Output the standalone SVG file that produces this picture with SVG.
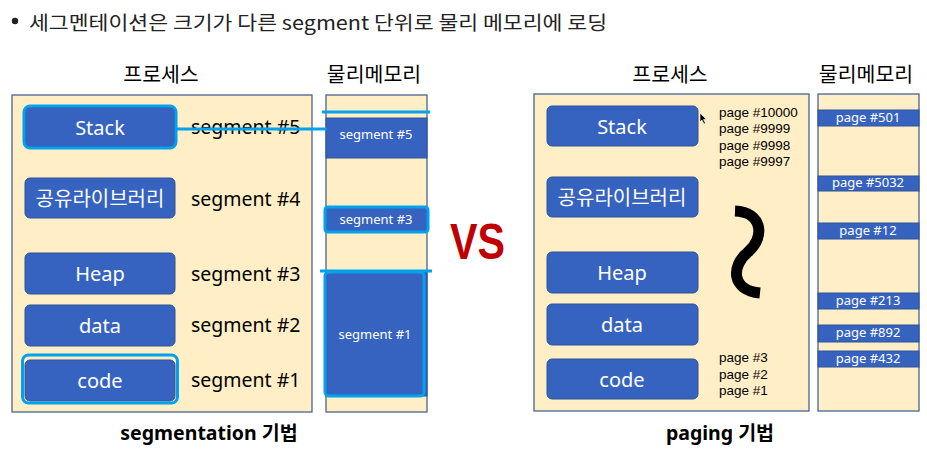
<svg xmlns="http://www.w3.org/2000/svg" width="927" height="452" viewBox="0 0 927 452">
<style>
.bg{fill:#FFEEC6;stroke:#4A6490;stroke-width:1.3}
.box{fill:#3763C0;stroke:#2F5597;stroke-width:1}
.bt{fill:#fff;font-family:"Noto Sans","Noto Sans CJK KR",sans-serif;font-size:20px;text-anchor:middle;dominant-baseline:central}
.lab{fill:#000;font-family:"Noto Sans","Noto Sans CJK KR",sans-serif;font-size:19.5px;dominant-baseline:central}
.hd{fill:#000;font-family:"Noto Sans CJK KR",sans-serif;font-size:20.5px;text-anchor:middle;dominant-baseline:central}
.pm{fill:#3763C0;stroke:#2F5597;stroke-width:1}
.pt{fill:#fff;font-family:"Noto Sans",sans-serif;font-size:13px;text-anchor:middle;dominant-baseline:central}
.pl{fill:#000;font-family:"Liberation Sans",sans-serif;font-size:13.5px;dominant-baseline:central}
.hl{fill:none;stroke:#00A2EE;stroke-width:3}
.ft{fill:#000;font-family:"Noto Sans","Noto Sans CJK KR",sans-serif;font-size:19.5px;font-weight:bold;text-anchor:middle;dominant-baseline:central}
</style>
<rect width="927" height="452" fill="#fff"/>
<g id="title">
<circle cx="15" cy="21" r="3.2" fill="#222"/>
<text x="29" y="21" font-family="Noto Sans CJK KR,sans-serif" font-size="19" fill="#222" dominant-baseline="central" textLength="578" lengthAdjust="spacingAndGlyphs">세그멘테이션은 크기가 다른 segment 단위로 물리 메모리에 로딩</text>
</g>
<!-- left: segmentation -->
<g id="seg-headers">
<text class="hd" x="161" y="73">프로세스</text>
<text class="hd" x="374" y="73">물리메모리</text>
</g>
<g id="seg-process">
<rect class="bg" x="12" y="95" width="300" height="317"/>
</g>
<g id="seg-phys">
<rect class="bg" x="326" y="95" width="101" height="317"/>
</g>
<g id="seg-stack">
<rect class="box" x="25" y="107" width="150" height="40" rx="5"/>
<rect class="hl" x="24" y="106" width="152" height="42" rx="6"/>
<text class="bt" x="100" y="127">Stack</text>
</g>
<g id="seg-shlib">
<rect class="box" x="25" y="178" width="150" height="40" rx="5"/>
<text class="bt" x="100" y="198">공유라이브러리</text>
</g>
<g id="seg-heap">
<rect class="box" x="25" y="253" width="150" height="41" rx="5"/>
<text class="bt" x="100" y="273">Heap</text>
</g>
<g id="seg-data">
<rect class="box" x="25" y="305" width="150" height="41" rx="5"/>
<text class="bt" x="100" y="325">data</text>
</g>
<g id="seg-code">
<rect class="box" x="25" y="360" width="150" height="41" rx="5"/>
<rect class="hl" x="22.5" y="355" width="155" height="48" rx="6"/>
<text class="bt" x="100" y="380">code</text>
</g>
<g id="seg-labels">
<text class="lab" x="191" y="126">segment #5</text>
<text class="lab" x="191" y="198">segment #4</text>
<text class="lab" x="191" y="273">segment #3</text>
<text class="lab" x="191" y="324">segment #2</text>
<text class="lab" x="191" y="379">segment #1</text>
</g>
<g id="seg-phys-5">
<rect class="pm" x="326" y="118" width="101" height="40"/>
<text class="pt" x="376" y="134">segment #5</text>
</g>
<g id="seg-phys-3">
<rect class="pm" x="325" y="207" width="103" height="25" rx="3"/>
<rect class="hl" x="325" y="207" width="103" height="25" rx="3"/>
<text class="pt" x="376" y="219">segment #3</text>
</g>
<g id="seg-phys-1">
<rect class="pm" x="326" y="271" width="101" height="125"/>
<rect class="hl" x="325" y="272" width="99" height="124" rx="4"/>
<text class="pt" x="375" y="334">segment #1</text>
</g>
<g id="connectors">
<line x1="176" y1="129" x2="327" y2="129" stroke="#00A2EE" stroke-width="3"/>
<line x1="322" y1="112" x2="430" y2="112" stroke="#00A2EE" stroke-width="3"/>
<line x1="320" y1="271" x2="432" y2="271" stroke="#00A2EE" stroke-width="3"/>
<line x1="698" y1="115" x2="716" y2="115" stroke="#00A2EE" stroke-width="3"/>
</g>
<g id="seg-footer">
<text class="ft" x="209" y="432">segmentation 기법</text>
</g>
<g id="vs">
<text x="450" y="259" font-family="Liberation Sans,sans-serif" font-weight="bold" font-size="50" fill="#C00000" textLength="55" lengthAdjust="spacingAndGlyphs">VS</text>
</g>
<!-- right: paging -->
<g id="pg-headers">
<text class="hd" x="670" y="73">프로세스</text>
<text class="hd" x="866" y="73">물리메모리</text>
</g>
<g id="pg-process">
<rect class="bg" x="534" y="94" width="275" height="317"/>
</g>
<g id="pg-phys">
<rect class="bg" x="818" y="94" width="101" height="317"/>
</g>
<g id="pg-stack">
<rect class="box" x="547" y="106" width="151" height="40" rx="5"/>
<text class="bt" x="622" y="126">Stack</text>
</g>
<g id="pg-shlib">
<rect class="box" x="547" y="177" width="151" height="40" rx="5"/>
<text class="bt" x="622" y="197">공유라이브러리</text>
</g>
<g id="pg-heap">
<rect class="box" x="547" y="252" width="151" height="41" rx="5"/>
<text class="bt" x="622" y="272">Heap</text>
</g>
<g id="pg-data">
<rect class="box" x="547" y="304" width="151" height="41" rx="5"/>
<text class="bt" x="622" y="324">data</text>
</g>
<g id="pg-code">
<rect class="box" x="547" y="359" width="151" height="40" rx="5"/>
<text class="bt" x="622" y="379">code</text>
</g>
<g id="pg-labels">
<text class="pl" x="719" y="112">page #10000</text>
<text class="pl" x="719" y="128">page #9999</text>
<text class="pl" x="719" y="145">page #9998</text>
<text class="pl" x="719" y="161">page #9997</text>
<text class="pl" x="719" y="357">page #3</text>
<text class="pl" x="719" y="374">page #2</text>
<text class="pl" x="719" y="390">page #1</text>
</g>
<g id="cursor">
<path d="M700 113 L700 122 L702 120 L704 124 L705.5 123.3 L703.5 119.5 L706.5 119.5 Z" fill="#000" stroke="#fff" stroke-width="0.6"/>
</g>
<g id="squiggle">
<path d="M735 211 C763 212 765 238 748 252 C731 266 731 290 760 293" fill="none" stroke="#000" stroke-width="11"/>
</g>
<g id="pg-phys-pages">
<rect class="pm" x="818" y="110" width="101" height="16"/>
<text class="pt" x="868" y="117">page #501</text>
<rect class="pm" x="818" y="176" width="101" height="15"/>
<text class="pt" x="868" y="182">page #5032</text>
<rect class="pm" x="818" y="223" width="101" height="16"/>
<text class="pt" x="868" y="230">page #12</text>
<rect class="pm" x="818" y="293" width="101" height="16"/>
<text class="pt" x="868" y="300">page #213</text>
<rect class="pm" x="818" y="325" width="101" height="17"/>
<text class="pt" x="868" y="332">page #892</text>
<rect class="pm" x="818" y="351" width="101" height="16"/>
<text class="pt" x="868" y="358">page #432</text>
</g>
<g id="pg-footer">
<text class="ft" x="720" y="432">paging 기법</text>
</g>
</svg>
